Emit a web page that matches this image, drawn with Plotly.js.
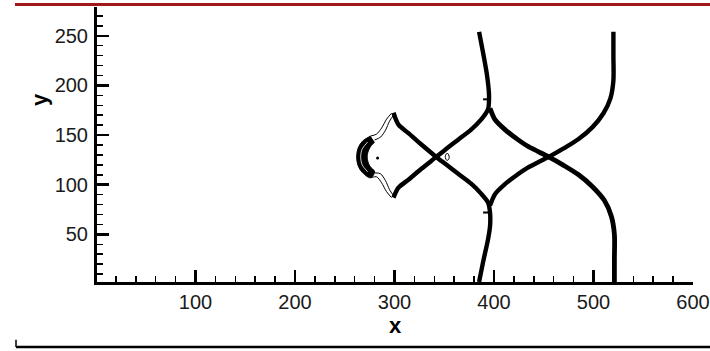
<!DOCTYPE html>
<html>
<head>
<meta charset="utf-8">
<script src="https://cdn.plot.ly/plotly-3.0.1.min.js"></script>
<style>
  html, body { margin: 0; padding: 0; background: #ffffff; }
  #chart { width: 710px; height: 351px; }
</style>
</head>
<body>
<div id="chart"></div>
<script>
// Shock fronts in the x-y plane: four main fronts crossing at two points,
// plus the contour structure ahead of the left cusps.

// Front from the upper-left cusp, through the left crossing, down the lower stem
const front1X = [299, 304, 314, 327, 342, 351, 364, 377, 387, 394, 396, 396, 394, 389, 385];
const front1Y = [172.5, 160.5, 152, 140.5, 128, 121, 111, 101, 91, 82, 72, 58, 45, 22, 2];

// Front from the lower-left cusp, through the left crossing, up the upper stem
const front2X = [299, 304, 314, 327, 342, 351, 364, 377, 387, 394, 395, 393, 389, 385];
const front2Y = [87, 97, 105, 116, 128, 135.3, 145.4, 155.5, 165.5, 176, 190, 210, 233, 254];

// Front from the right top, through the right crossing, to the lower junction
const front3X = [520, 520, 520, 517, 510, 499, 485, 470, 455, 444, 434, 424, 411, 401, 396];
const front3Y = [254, 230, 205, 187, 172, 158, 146, 136.5, 128, 122.4, 117.3, 110.6, 100.5, 90.5, 79];

// Front from the right bottom, through the right crossing, to the upper junction
const front4X = [521, 521, 521, 518, 511, 499, 485, 470, 455, 444, 434, 424, 411, 401, 396];
const front4Y = [2, 25, 50, 68, 84, 98, 110, 119.5, 128, 133.6, 138.7, 145.4, 155.5, 165.5, 177];

// Dense contour crescent ahead of the left cusps
const crescentX = [276, 268, 263.5, 262, 263.5, 268, 276, 280, 275, 272.5, 275, 280];
const crescentY = [149, 144, 137, 128, 119, 112, 107, 113, 119, 128, 137, 143];
const crescentGapX = [273, 267.5, 266, 267.5, 273];
const crescentGapY = [143, 136, 128, 120, 113];

// Thin contour bands joining the cusps to the crescent
const bandTopOuterX = [297, 292, 287, 282, 276];
const bandTopOuterY = [172, 166, 157, 151, 149];
const bandTopInnerX = [299, 295, 291, 286, 280];
const bandTopInnerY = [170, 164, 155, 148, 145];
const bandBotOuterX = [297, 292, 287, 282, 276];
const bandBotOuterY = [87, 93, 102, 108, 107];
const bandBotInnerX = [299, 295, 291, 286, 280];
const bandBotInnerY = [89, 95, 104, 111, 112];

// Small closed contour beside the left crossing
const loopX = [351, 352, 353.5, 355, 354, 352.5, 351];
const loopY = [128, 131, 131.5, 128, 125, 124.5, 128];

// Isolated contour point inside the crescent
const dotX = [283];
const dotY = [127];

// Short flags on the stems
const flagUpX = [389, 393];
const flagUpY = [186, 186];
const flagLowX = [389, 394];
const flagLowY = [72, 72];

// Axis ticks
const xTicks = [100, 200, 300, 400, 500, 600];
const yTicks = [50, 100, 150, 200, 250];

function front(x, y, w) {
  return { x: x, y: y, type: 'scatter', mode: 'lines',
           line: { color: '#000000', width: w, shape: 'spline', smoothing: 0.8 },
           hoverinfo: 'skip', showlegend: false };
}
function thin(x, y, w, c) {
  return { x: x, y: y, type: 'scatter', mode: 'lines',
           line: { color: c || '#000000', width: w, shape: 'spline', smoothing: 0.8 },
           hoverinfo: 'skip', showlegend: false };
}

const traces = [
  front(front1X, front1Y, 4.4),
  front(front2X, front2Y, 4.4),
  front(front3X, front3Y, 4.4),
  front(front4X, front4Y, 4.8),
  { x: crescentX, y: crescentY, type: 'scatter', mode: 'lines', fill: 'toself',
    fillcolor: '#000000', line: { color: '#000000', width: 1, shape: 'spline' },
    hoverinfo: 'skip', showlegend: false },
  thin(crescentGapX, crescentGapY, 0.8, '#ffffff'),
  thin(bandTopOuterX, bandTopOuterY, 1),
  thin(bandTopInnerX, bandTopInnerY, 1),
  thin(bandBotOuterX, bandBotOuterY, 1),
  thin(bandBotInnerX, bandBotInnerY, 1),
  thin(loopX, loopY, 1),
  { x: flagUpX, y: flagUpY, type: 'scatter', mode: 'lines',
    line: { color: '#000000', width: 2 }, hoverinfo: 'skip', showlegend: false },
  { x: flagLowX, y: flagLowY, type: 'scatter', mode: 'lines',
    line: { color: '#000000', width: 2 }, hoverinfo: 'skip', showlegend: false },
  { x: dotX, y: dotY, type: 'scatter', mode: 'markers',
    marker: { color: '#000000', size: 3 }, hoverinfo: 'skip', showlegend: false }
];

const tickFont = { family: 'Liberation Sans, Arial, sans-serif', size: 20, color: '#1a1a1a' };
const titleFont = { family: 'Liberation Sans, Arial, sans-serif', size: 22, color: '#000000' };

const layout = {
  width: 710,
  height: 351,
  margin: { l: 97, r: 17, t: 7, b: 68.5, pad: 0 },
  paper_bgcolor: '#ffffff',
  plot_bgcolor: '#ffffff',
  showlegend: false,
  xaxis: {
    range: [1, 600],
    tickvals: xTicks,
    ticktext: xTicks.map(String),
    ticks: 'inside',
    ticklen: 12,
    tickwidth: 2.5,
    tickcolor: '#000000',
    ticklabelstandoff: 0,
    ticklabeloverflow: 'allow',
    minor: { dtick: 20, tick0: 0, ticks: 'inside', ticklen: 6, tickwidth: 1.5, tickcolor: '#000000', showgrid: false },
    showline: true,
    linewidth: 3,
    linecolor: '#000000',
    showgrid: false,
    zeroline: false,
    tickfont: tickFont,
    fixedrange: true
  },
  yaxis: {
    range: [2, 279],
    tickvals: yTicks,
    ticktext: yTicks.map(String),
    ticks: 'inside',
    ticklen: 12,
    tickwidth: 2.5,
    tickcolor: '#000000',
    ticklabelstandoff: 2,
    ticklabeloverflow: 'allow',
    minor: { dtick: 10, tick0: 0, ticks: 'inside', ticklen: 6, tickwidth: 1.5, tickcolor: '#000000', showgrid: false },
    showline: true,
    linewidth: 3,
    linecolor: '#000000',
    showgrid: false,
    zeroline: false,
    tickfont: tickFont,
    fixedrange: true
  },
  annotations: [
    { text: '<b>x</b>', xref: 'paper', yref: 'paper', x: 0.5, y: -0.158,
      xanchor: 'center', yanchor: 'middle', showarrow: false, font: titleFont },
    { text: '<b>y</b>', xref: 'paper', yref: 'paper', x: -0.0955, y: 0.6624,
      xanchor: 'center', yanchor: 'middle', textangle: -90, showarrow: false, font: titleFont }
  ],
  shapes: [
    // frame rule along the top
    { type: 'line', xref: 'paper', yref: 'paper', x0: -0.1376, x1: 1.03, y0: 1.0091, y1: 1.0091,
      line: { color: '#a3171c', width: 3 } },
    // frame rule along the bottom
    { type: 'line', xref: 'paper', yref: 'paper', x0: -0.1359, x1: 1.03, y0: -0.236, y1: -0.236,
      line: { color: '#000000', width: 2.5 } },
    { type: 'line', xref: 'paper', yref: 'paper', x0: -0.1359, x1: -0.1359, y0: -0.236, y1: -0.21,
      line: { color: '#000000', width: 1.5 } }
  ]
};

Plotly.newPlot('chart', traces, layout, { staticPlot: true, displayModeBar: false });
</script>
</body>
</html>
